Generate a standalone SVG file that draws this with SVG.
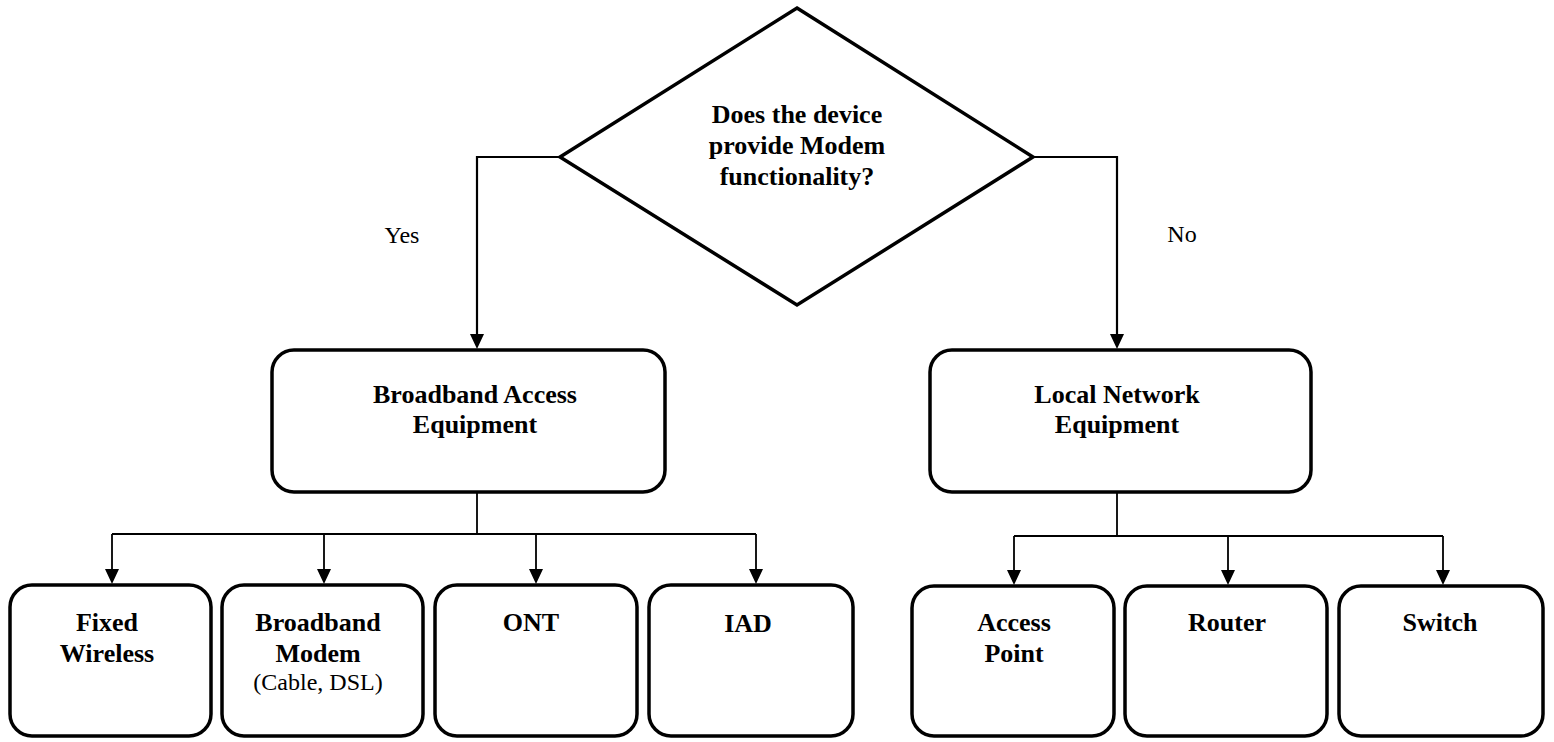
<svg xmlns="http://www.w3.org/2000/svg" width="1554" height="742" viewBox="0 0 1554 742">
<style>
.box{fill:#fff;stroke:#000;stroke-width:3.5}
.t{font-family:"Liberation Serif","Times New Roman",serif;font-size:26px;font-weight:bold;text-anchor:middle;fill:#000}
.r{font-family:"Liberation Serif","Times New Roman",serif;font-size:24px;text-anchor:middle;fill:#000}
.c{fill:none;stroke:#000;stroke-width:1.8}
.c2{fill:none;stroke:#000;stroke-width:2.2}
.ah{fill:#000}
</style>
<rect width="1554" height="742" fill="#fff"/>
<g id="connectors">
<path class="c2" d="M560,157 H477 V336"/>
<path class="ah" d="M470,334 L484,334 L477,349 Z"/>
<path class="c2" d="M1033,157 H1117 V336"/>
<path class="ah" d="M1110,334 L1124,334 L1117,349 Z"/>
<path class="c" d="M477,492 V534 M112,534 H756 M112,534 V570 M324,534 V570 M536,534 V570 M756,534 V570"/>
<path class="ah" d="M105,569 L119,569 L112,584 Z M317,569 L331,569 L324,584 Z M529,569 L543,569 L536,584 Z M749,569 L763,569 L756,584 Z"/>
<path class="c" d="M1117,492 V536 M1014,536 H1443 M1014,536 V571 M1228,536 V571 M1443,536 V571"/>
<path class="ah" d="M1007,570 L1021,570 L1014,585 Z M1221,570 L1235,570 L1228,585 Z M1436,570 L1450,570 L1443,585 Z"/>
<text class="r" x="402" y="243">Yes</text>
<text class="r" x="1182" y="242">No</text>
</g>
<g id="decision">
<polygon class="box" points="797,8 1033,157 797,305 560,157"/>
<text class="t" x="797" y="123">Does the device</text>
<text class="t" x="797" y="154">provide Modem</text>
<text class="t" x="797" y="185">functionality?</text>
</g>
<g id="broadband-access">
<rect class="box" x="272" y="350" width="393" height="142" rx="22"/>
<text class="t" x="475" y="403">Broadband Access</text>
<text class="t" x="475" y="433">Equipment</text>
</g>
<g id="local-network">
<rect class="box" x="930" y="350" width="381" height="142" rx="22"/>
<text class="t" x="1117" y="403">Local Network</text>
<text class="t" x="1117" y="433">Equipment</text>
</g>
<g id="fixed-wireless">
<rect class="box" x="10" y="585" width="201" height="151" rx="22"/>
<text class="t" x="107" y="631">Fixed</text>
<text class="t" x="107" y="662">Wireless</text>
</g>
<g id="broadband-modem">
<rect class="box" x="222" y="585" width="201" height="151" rx="22"/>
<text class="t" x="318" y="631">Broadband</text>
<text class="t" x="318" y="662">Modem</text>
<text class="r" x="318" y="690">(Cable, DSL)</text>
</g>
<g id="ont">
<rect class="box" x="435" y="585" width="202" height="151" rx="22"/>
<text class="t" x="531" y="631">ONT</text>
</g>
<g id="iad">
<rect class="box" x="649" y="585" width="204" height="151" rx="22"/>
<text class="t" x="748" y="632">IAD</text>
</g>
<g id="access-point">
<rect class="box" x="912" y="586" width="202" height="150" rx="22"/>
<text class="t" x="1014" y="631">Access</text>
<text class="t" x="1014" y="662">Point</text>
</g>
<g id="router">
<rect class="box" x="1125" y="586" width="202" height="150" rx="22"/>
<text class="t" x="1227" y="631">Router</text>
</g>
<g id="switch">
<rect class="box" x="1339" y="586" width="204" height="150" rx="22"/>
<text class="t" x="1440" y="631">Switch</text>
</g>
</svg>
